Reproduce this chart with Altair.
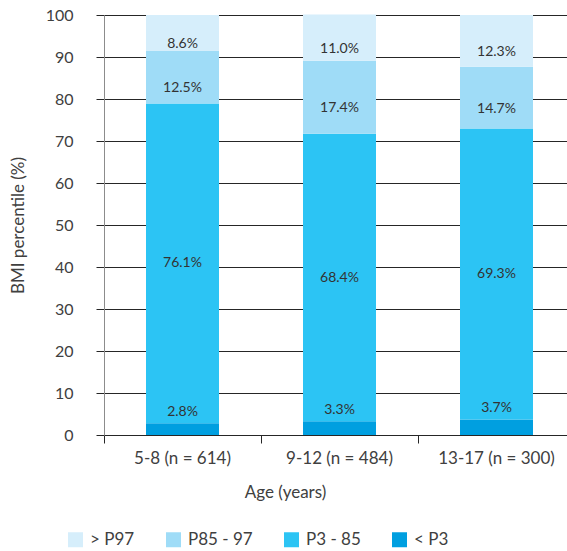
import altair as alt
import pandas as pd

# Age groups along the x axis
age_groups = ["5-8 (n = 614)", "9-12 (n = 484)", "13-17 (n = 300)"]

# BMI percentile categories, stacked from bottom to top
categories = ["< P3", "P3 - 85", "P85 - 97", "> P97"]
below_p3 = [2.8, 3.3, 3.7]
p3_to_85 = [76.1, 68.4, 69.3]
p85_to_97 = [12.5, 17.4, 14.7]
above_p97 = [8.6, 11.0, 12.3]

# Legend order and colours
legend_order = ["> P97", "P85 - 97", "P3 - 85", "< P3"]
legend_colors = ["#D6EEFB", "#9FDCF7", "#2CC4F4", "#009FE0"]

y_ticks = [0, 10, 20, 30, 40, 50, 60, 70, 80, 90, 100]

rows = []
for i, group in enumerate(age_groups):
    base = 0.0
    for cat, vals in zip(categories, [below_p3, p3_to_85, p85_to_97, above_p97]):
        v = vals[i]
        rows.append(
            dict(
                group=group,
                category=cat,
                value=v,
                start=base,
                end=base + v,
                label_y=(base + v) if cat == "< P3" else base + v / 2,
                label=f"{v:.1f}%",
            )
        )
        base += v
df = pd.DataFrame(rows)

FONT = "Lato"
TEXT = "#404040"
LINE = "#262626"

x_enc = alt.X(
    "group:N",
    sort=age_groups,
    scale=alt.Scale(range=[0, 471], paddingInner=0, paddingOuter=0),
    axis=alt.Axis(
        title="Age (years)",
        bandPosition=0,
        ticks=True,
        tickSize=8,
        tickColor=LINE,
        domain=False,
        grid=False,
        labelAngle=0,
        labelFont=FONT,
        labelFontSize=17,
        labelColor=TEXT,
        labelPadding=7,
        titleFont=FONT,
        titleFontSize=17,
        titleFontWeight="normal",
        titleColor=TEXT,
        titleX=181,
        titleY=62,
        titleBaseline="alphabetic",
    ),
)

y_axis = alt.Axis(
    values=y_ticks,
    title="BMI percentile (%)",
    grid=True,
    gridColor=LINE,
    gridWidth=1,
    tickSize=8,
    tickColor=LINE,
    domainColor="#8c8c8c",
    labelFont=FONT,
    labelFontSize=16,
    labelColor=TEXT,
    labelPadding=23,
    titleFont=FONT,
    titleFontSize=17,
    titleFontWeight="normal",
    titleColor=TEXT,
    titlePadding=18,
)
y_scale = alt.Scale(domain=[0, 100], nice=False)

base = alt.Chart(df).encode(x=x_enc)

bars = base.mark_bar(size=73).encode(
    y=alt.Y("start:Q", scale=y_scale, axis=y_axis),
    y2="end:Q",
    color=alt.Color(
        "category:N",
        scale=alt.Scale(domain=legend_order, range=legend_colors),
        legend=alt.Legend(
            orient="none",
            legendX=-37,
            legendY=516,
            direction="horizontal",
            columns=4,
            title=None,
            symbolType="square",
            symbolSize=225,
            symbolStrokeWidth=0,
            labelFont=FONT,
            labelFontSize=17,
            labelColor=TEXT,
            labelOffset=6,
            columnPadding=30,
            padding=0,
        ),
    ),
)


def labels(cats, dy):
    return (
        base.transform_filter(alt.FieldOneOfPredicate(field="category", oneOf=cats))
        .mark_text(font=FONT, fontSize=14, color="#333333", dy=dy)
        .encode(
            y=alt.Y("label_y:Q", scale=y_scale, axis=y_axis),
            text="label:N",
        )
    )


chart = (
    alt.layer(
        bars,
        labels(["< P3"], -11),
        labels(["P3 - 85"], 0),
        labels(["P85 - 97", "> P97"], 11),
    )
    .properties(
        width=463,
        height=420,
        autosize=alt.AutoSizeParams(type="none"),
        padding={"left": 104, "top": 15, "right": 0, "bottom": 116},
    )
    .configure_view(stroke=None)
)

chart.save("out.html", embed_options={"renderer": "svg", "actions": False})
